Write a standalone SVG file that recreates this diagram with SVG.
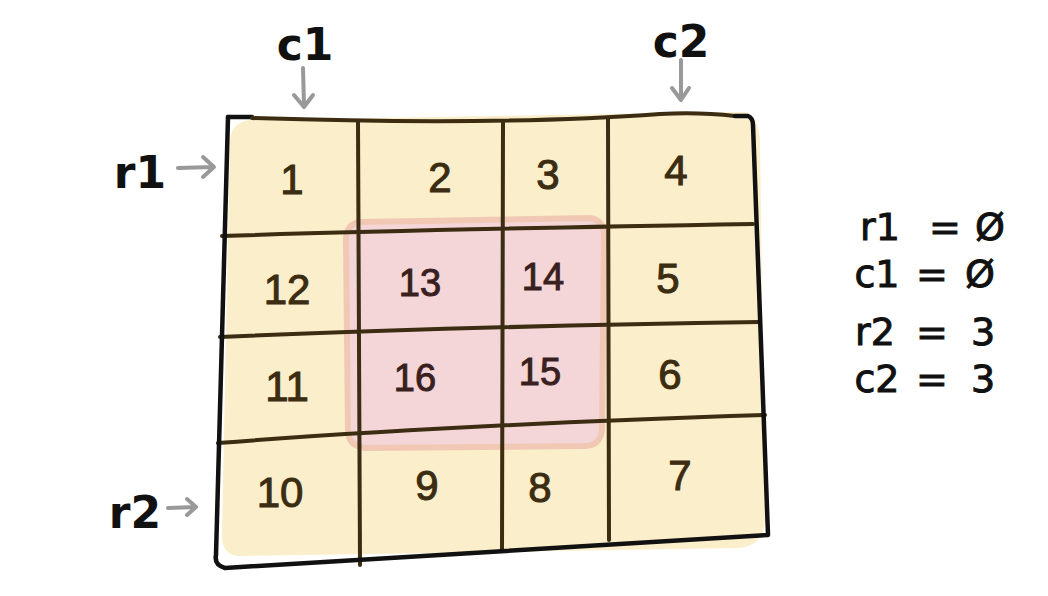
<svg xmlns="http://www.w3.org/2000/svg" width="1048" height="596" viewBox="0 0 1048 596">
<defs>
<style>
.grid{fill:none;stroke:#3b2c12;stroke-width:4;stroke-linecap:round;stroke-linejoin:round}
.outer{fill:none;stroke:#111;stroke-width:4.5;stroke-linecap:round;stroke-linejoin:round}
.num{font-family:"Liberation Sans",sans-serif;font-size:42px;fill:#3b2c12;stroke:#3b2c12;stroke-width:1;text-anchor:middle}
.pnum{font-family:"Liberation Sans",sans-serif;font-size:38px;fill:#3a1f1f;stroke:#3a1f1f;stroke-width:1;text-anchor:middle}
.lbl{font-family:"DejaVu Sans",sans-serif;font-weight:bold;font-size:44px;fill:#111;text-anchor:middle}
.eq{font-family:"DejaVu Sans",sans-serif;font-size:38px;fill:#111;stroke:#111;stroke-width:1;text-anchor:middle}
.arr{fill:none;stroke:#999;stroke-width:4;stroke-linecap:round;stroke-linejoin:round}
</style>
</defs>
<g id="fills">
<path d="M250,120 L745,112 Q758,115 760,140 L765,520 Q764,545 740,548 L240,556 Q222,556 222,535 L230,140 Q232,122 250,120 Z" fill="#faeecb"/>
<path d="M360,222 L590,218 Q604,220 604,236 L602,430 Q600,446 585,446 L365,448 Q348,446 348,430 L346,240 Q346,224 360,222 Z" fill="#f4d6d9" stroke="#f0c8b4" stroke-width="6"/>
</g>
<g id="grid">
<path class="grid" d="M358,121 L360,565"/>
<path class="grid" d="M503,123 L502,550"/>
<path class="grid" d="M608,119 L609,540"/>
<path class="grid" d="M222,236 Q400,230 753,224"/>
<path class="grid" d="M220,337 Q480,326 760,322"/>
<path class="grid" d="M218,443 Q450,425 765,415"/>
<path class="outer" d="M228,117 L252,117"/>
<path class="grid" d="M252,118 Q500,126 660,114 Q700,112 735,116"/>
<path class="outer" d="M735,116 L748,116 Q753,118 753,125 L768,535 L225,568 Q214,565 216,555 L228,117"/>
</g>
<g id="cells">
<text class="num" x="292" y="194">1</text>
<text class="num" x="440" y="192">2</text>
<text class="num" x="548" y="189">3</text>
<text class="num" x="676" y="185">4</text>
<text class="num" x="287" y="304">12</text>
<text class="pnum" x="420" y="296">13</text>
<text class="pnum" x="543" y="290">14</text>
<text class="num" x="668" y="293">5</text>
<text class="num" x="287" y="401">11</text>
<text class="pnum" x="415" y="391">16</text>
<text class="pnum" x="540" y="385">15</text>
<text class="num" x="670" y="389">6</text>
<text class="num" x="280" y="507">10</text>
<text class="num" x="427" y="500">9</text>
<text class="num" x="540" y="502">8</text>
<text class="num" x="680" y="490">7</text>
</g>
<g id="labels">
<text class="lbl" x="305" y="60">c1</text>
<text class="lbl" x="681" y="57">c2</text>
<text class="lbl" x="140" y="188">r1</text>
<text class="lbl" x="135" y="528">r2</text>
</g>
<g id="connectors">
<path class="arr" d="M303,68 L304,106 M294,95 L304,107 L313,95"/>
<path class="arr" d="M681,60 L681,99 M672,88 L681,100 L689,88"/>
<path class="arr" d="M178,168 L213,167 M203,157 L214,167 L203,177"/>
<path class="arr" d="M168,508 L196,507 M187,499 L196,507 L187,515"/>
</g>
<g id="legend">
<text class="eq" x="880" y="240">r1</text><text class="eq" x="945" y="240">=</text><text class="eq" x="990" y="240">Ø</text>
<text class="eq" x="877" y="287">c1</text><text class="eq" x="932" y="287">=</text><text class="eq" x="980" y="287">Ø</text>
<text class="eq" x="875" y="345">r2</text><text class="eq" x="932" y="345">=</text><text class="eq" x="983" y="345">3</text>
<text class="eq" x="877" y="392">c2</text><text class="eq" x="932" y="392">=</text><text class="eq" x="983" y="392">3</text>
</g>
</svg>
